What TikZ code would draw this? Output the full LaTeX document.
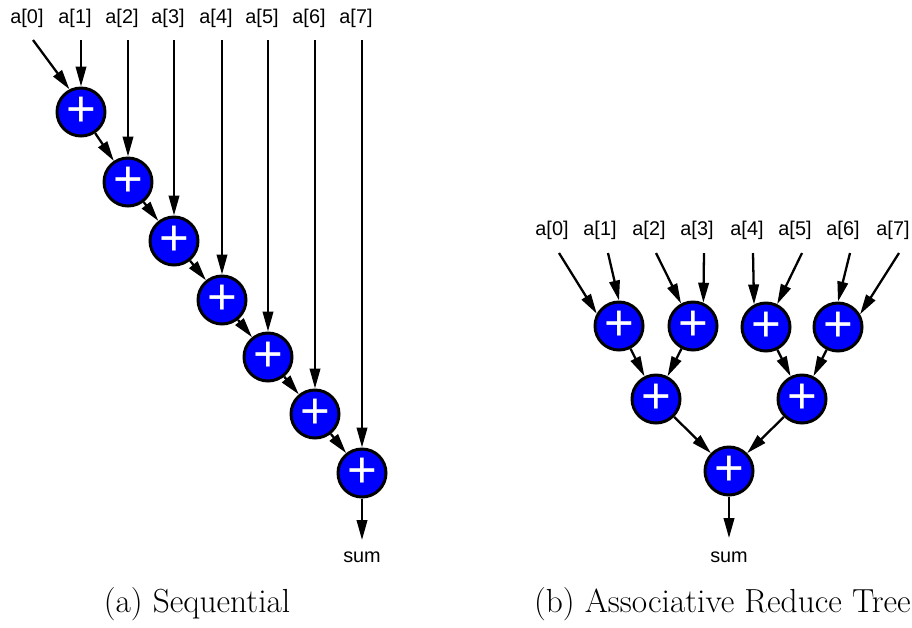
\documentclass[tikz,border=0pt]{standalone}
\usepackage{fontspec}
\newfontfamily\helv{Liberation Sans}
\usetikzlibrary{arrows.meta}
\definecolor{addblue}{HTML}{0000FF}
\tikzset{
  ar/.style={-{Triangle[length=0.4cm,width=0.21cm]},line width=1.3pt},
  addr/.style={circle,draw,line width=1.7pt,fill=addblue,minimum size=0.96cm,inner sep=0pt,text=white,font=\helv\fontsize{29}{29}\selectfont},
  lbl/.style={font=\helv\fontsize{11.3}{13}\selectfont,inner sep=0pt},
  captxt/.style={font=\fontsize{19}{22}\selectfont,inner sep=0pt}
}
\begin{document}
\begin{tikzpicture}[x=0.02cm,y=-0.02cm]
\useasboundingbox (0,0) rectangle (912,627);
% sequential
\foreach \i/\x in {0/27,1/75,2/122,3/168,4/216,5/262,6/309,7/356}
  \node[lbl] (la\i) at (\x,18) {a[\i]};
\foreach \n/\x/\y in {1/81/112,2/128/182,3/174/241,4/222/300,5/268/357,6/315/414,7/362/473}
  \node[addr] (s\n) at (\x,\y) {+};
\coordinate (sa0) at (33,40);
\foreach \n/\x in {1/81,2/128,3/174,4/222,5/268,6/315,7/362}
  \coordinate (sa\n) at (\x,40);
\draw[ar] (sa0) -- (s1.117);
\foreach \n in {1,...,7}
  \draw[ar] (sa\n) -- (s\n);
\foreach \n/\m in {1/2,2/3,3/4,4/5,5/6,6/7}
  \draw[ar] (s\n) -- (s\m);
\coordinate (se) at (362,540);
\draw[ar] (s7) -- (se);
\node[lbl] (ssum) at (362,557) {sum};
\node[captxt] (capa) at (197,604) {(a) Sequential};
% reduce tree
\foreach \i/\x in {0/552,1/600,2/649,3/697,4/747,5/795,6/843,7/893}
  \node[lbl] (lb\i) at (\x,230) {a[\i]};
\foreach \i/\x in {0/559,1/608,2/656,3/704,4/753,5/802,6/850,7/899}
  \coordinate (ta\i) at (\x,253);
\node[addr] (t1) at (619,326) {+};
\node[addr] (t2) at (693,326) {+};
\node[addr] (t3) at (766,327) {+};
\node[addr] (t4) at (838,327) {+};
\node[addr] (u1) at (656,399) {+};
\node[addr] (u2) at (802,399) {+};
\node[addr] (r) at (729,471) {+};
\draw[ar] (ta0) -- (t1.151);
\draw[ar] (ta1) -- (t1.north);
\draw[ar] (ta2) -- (t2.118);
\draw[ar] (ta3) -- (t2.66);
\draw[ar] (ta4) -- (t3.118);
\draw[ar] (ta5) -- (t3.64);
\draw[ar] (ta6) -- (t4.north);
\draw[ar] (ta7) -- (t4.30);
\draw[ar] (t1) -- (u1);
\draw[ar] (t2) -- (u1);
\draw[ar] (t3) -- (u2);
\draw[ar] (t4) -- (u2);
\draw[ar] (u1) -- (r);
\draw[ar] (u2) -- (r);
\coordinate (te) at (729,538);
\draw[ar] (r) -- (te);
\node[lbl] (tsum) at (729,557) {sum};
\node[captxt,anchor=east] (capb) at (911,604) {(b) Associative Reduce Tree};
\end{tikzpicture}
\end{document}
